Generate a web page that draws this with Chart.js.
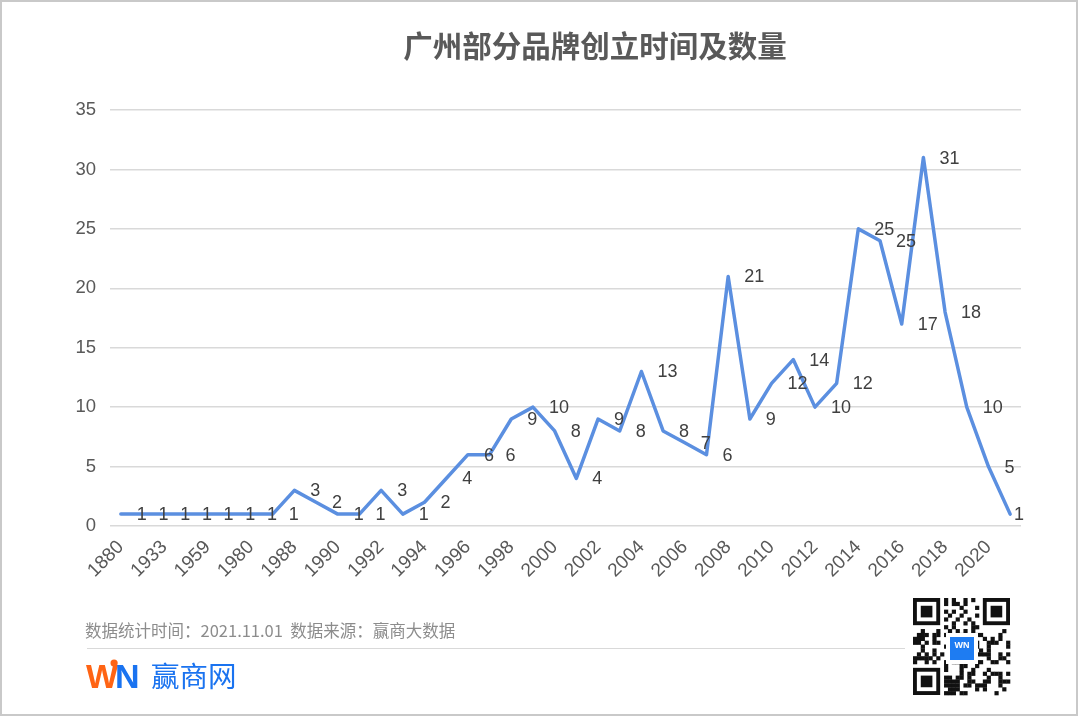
<!DOCTYPE html>
<html>
<head>
<meta charset="utf-8">
<script src="https://cdn.jsdelivr.net/npm/chart.js@4/dist/chart.umd.min.js"></script>
<style>
  html, body { margin: 0; padding: 0; background: #fff; }
  #wrap { width: 1080px; height: 716px; position: relative; }
</style>
</head>
<body>
<div id="wrap"><canvas id="chart" width="1080" height="716"></canvas></div>
<script>
// years (hidden labels between the first few are guesses, only every other one is shown)
const years = ["1880", "1920", "1933", "1950", "1959", "1970", "1980", "1985",
  "1988", "1989", "1990", "1991", "1992", "1993", "1994", "1995", "1996", "1997",
  "1998", "1999", "2000", "2001", "2002", "2003", "2004", "2005", "2006", "2007",
  "2008", "2009", "2010", "2011", "2012", "2013", "2014", "2015", "2016", "2017",
  "2018", "2019", "2020", "2021"];

const counts = [1, 1, 1, 1, 1, 1, 1, 1,
  3, 2, 1, 1, 3, 1, 2, 4, 6, 6,
  9, 10, 8, 4, 9, 8, 13, 8, 7, 6,
  21, 9, 12, 14, 10, 12, 25, 24, 17, 31,
  18, 10, 5, 1];

// the picture labels the 2015 point "25" though it sits at 24
const pointLabels = counts.map(String);
pointLabels[35] = "25";

const yTicks = [0, 5, 10, 15, 20, 25, 30, 35];

const titleText = "广州部分品牌创立时间及数量";
const noteText = "数据统计时间：2021.11.01  数据来源：赢商大数据";

const latin = '"Liberation Sans", Arial, sans-serif';
const cjk = '"Noto Sans CJK SC", "Liberation Sans", sans-serif';

const pageDecor = {
  id: "pageDecor",
  beforeDraw(chart) {
    const c = chart.ctx;
    c.save();
    c.fillStyle = "#fff";
    c.fillRect(0, 0, chart.width, chart.height);
    c.restore();
  },
  afterDraw(chart) {
    const c = chart.ctx;
    c.save();
    // frame
    c.strokeStyle = "#c9c9c9";
    c.lineWidth = 2;
    c.strokeRect(1, 1, 1076, 714);

    // title
    c.fillStyle = "#595959";
    c.font = "bold 29.5px " + cjk;
    c.textAlign = "center";
    c.textBaseline = "middle";
    c.fillText(titleText, 595, 46);

    // footnote + rule
    c.fillStyle = "#8c8c8c";
    c.font = "16.5px " + cjk;
    c.textAlign = "left";
    c.fillText(noteText, 85, 631);
    c.strokeStyle = "#d9d9d9";
    c.lineWidth = 1;
    c.beginPath();
    c.moveTo(87, 648.5);
    c.lineTo(905, 648.5);
    c.stroke();

    // WiN logo
    c.font = "900 34px " + latin;
    c.textBaseline = "alphabetic";
    c.fillStyle = "#ff6414";
    c.fillText("W", 86, 688);
    const wW = c.measureText("W").width;
    c.beginPath();
    c.arc(86 + wW - 4, 663, 3.6, 0, Math.PI * 2);
    c.fill();
    c.fillStyle = "#1a73f0";
    c.fillText("N", 86 + wW - 3, 688);
    c.font = "28.5px " + cjk;
    c.fillText("赢商网", 151, 687);

    // QR-like badge
    const qx = 913, qy = 598, n = 25, m = 97 / n;
    c.fillStyle = "#111";
    for (let i = 0; i < n; i++) {
      for (let j = 0; j < n; j++) {
        const inFinder = (i < 8 && j < 8) || (i < 8 && j > n - 9) || (i > n - 9 && j < 8);
        if (inFinder) continue;
        if (((i * 31 + j * 17 + i * j * 7) ^ (i * j)) % 5 < 2) {
          c.fillRect(qx + j * m, qy + i * m, m + 0.3, m + 0.3);
        }
      }
    }
    [[0, 0], [0, n - 7], [n - 7, 0]].forEach(([i, j]) => {
      const x = qx + j * m, y = qy + i * m;
      c.fillStyle = "#111";
      c.fillRect(x, y, 7 * m, 7 * m);
      c.fillStyle = "#fff";
      c.fillRect(x + m, y + m, 5 * m, 5 * m);
      c.fillStyle = "#111";
      c.fillRect(x + 2 * m, y + 2 * m, 3 * m, 3 * m);
    });
    c.fillStyle = "#fff";
    c.fillRect(946, 633, 32, 31);
    c.fillStyle = "#1e7cf2";
    c.fillRect(950, 637, 24, 23);
    c.fillStyle = "#fff";
    c.font = "bold 9px " + latin;
    c.textAlign = "center";
    c.textBaseline = "middle";
    c.fillText("WN", 962, 646);
    c.restore();
  }
};

const pointValueLabels = {
  id: "pointValueLabels",
  afterDatasetsDraw(chart) {
    const c = chart.ctx;
    const meta = chart.getDatasetMeta(0);
    c.save();
    c.fillStyle = "#404040";
    c.font = "18px " + latin;
    c.textAlign = "left";
    c.textBaseline = "middle";
    meta.data.forEach((pt, i) => {
      const txt = pointLabels[i];
      const w = c.measureText(txt).width;
      let x = pt.x + 16;
      if (x + w > chart.chartArea.right + 3) x = chart.chartArea.right + 3 - w;
      c.fillText(txt, x, pt.y + 1);
    });
    c.restore();
  }
};

new Chart(document.getElementById("chart"), {
  type: "line",
  data: {
    labels: years,
    datasets: [{
      data: counts,
      borderColor: "#5b8fe0",
      borderWidth: 3.5,
      pointRadius: 0,
      tension: 0,
      fill: false,
      borderJoinStyle: "round",
      borderCapStyle: "round"
    }]
  },
  options: {
    responsive: false,
    animation: false,
    layout: { padding: { top: 110, right: 59, bottom: 0, left: 0 } },
    plugins: { legend: { display: false }, tooltip: { enabled: false } },
    scales: {
      x: {
        offset: true,
        grid: { display: false },
        border: { display: false },
        ticks: {
          autoSkip: false,
          maxRotation: 45,
          minRotation: 45,
          padding: 2,
          color: "#595959",
          font: { size: 19, family: latin },
          callback: (v, i) => (i % 2 === 0 ? years[i] : "")
        },
        afterFit: s => { s.height = 190; }
      },
      y: {
        min: 0,
        max: 35,
        afterBuildTicks: s => { s.ticks = yTicks.map(v => ({ value: v })); },
        grid: { color: "#d9d9d9", lineWidth: 1.5, drawTicks: false },
        border: { display: false },
        ticks: {
          padding: 14,
          color: "#595959",
          font: { size: 18.5, family: latin }
        },
        afterFit: s => { s.width = 110; }
      }
    }
  },
  plugins: [pageDecor, pointValueLabels]
});
</script>
</body>
</html>
